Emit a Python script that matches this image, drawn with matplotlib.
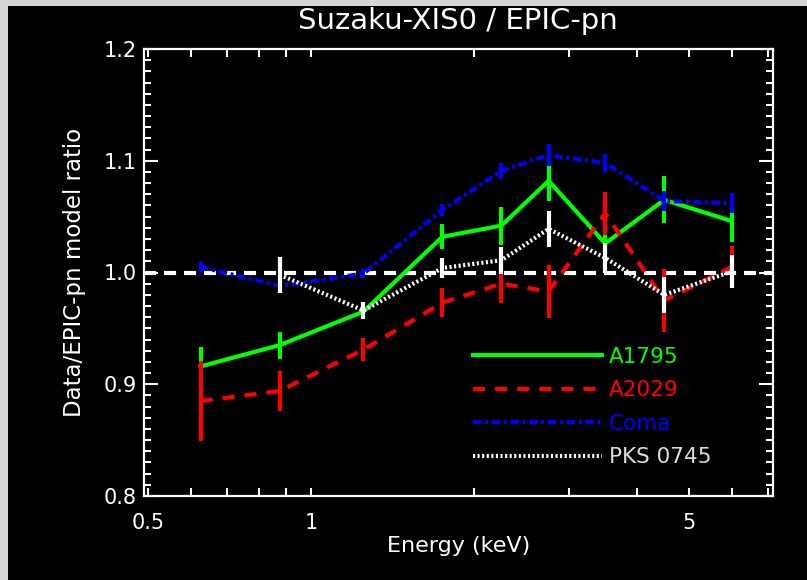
import matplotlib
matplotlib.use("Agg")
import matplotlib.pyplot as plt
from matplotlib.patches import Rectangle
from matplotlib.ticker import FixedLocator, NullFormatter, FixedFormatter, MultipleLocator

# ---------------- data ----------------
energy = [0.625, 0.875, 1.25, 1.75, 2.25, 2.75, 3.5, 4.5, 6.0]

a1795 = [0.916, 0.935, 0.965, 1.032, 1.042, 1.082, 1.026, 1.065, 1.046]
a1795_err = [0.017, 0.012, 0.006, 0.011, 0.017, 0.018, 0.012, 0.021, 0.019]

a2029 = [0.885, 0.894, 0.931, 0.973, 0.990, 0.983, 1.053, 0.975, 1.005]
a2029_err = [0.036, 0.018, 0.010, 0.013, 0.017, 0.024, 0.019, 0.028, 0.019]

coma = [1.005, 0.988, 0.999, 1.056, 1.091, 1.105, 1.098, 1.064, 1.062]
coma_err = [0.005, 0.004, 0.004, 0.005, 0.007, 0.010, 0.008, 0.009, 0.009]

pks_energy = [0.875, 1.25, 1.75, 2.25, 2.75, 3.5, 4.5, 6.0]
pks = [0.998, 0.966, 1.004, 1.011, 1.039, 1.013, 0.980, 1.001]
pks_err = [0.016, 0.008, 0.009, 0.012, 0.016, 0.013, 0.016, 0.015]

labels = ["A1795", "A2029", "Coma", "PKS 0745"]
line_colors = ["#00ff00", "#ff0000", "#0000ff", "#ffffff"]
text_colors = ["#00ff00", "#ff0000", "#0000ff", "#dcdcdc"]

x_major = [0.5, 1, 5]
x_major_labels = ["0.5", "1", "5"]
x_minor = [0.6, 0.7, 0.8, 0.9, 2, 3, 4, 6, 7]
y_ticks = [0.8, 0.9, 1.0, 1.1, 1.2]
y_labels = ["0.8", "0.9", "1.0", "1.1", "1.2"]

# ---------------- figure ----------------
plt.rcParams['font.family'] = ['DejaVu Sans']
fig = plt.figure(figsize=(8.07, 5.80), dpi=100)
fig.patch.set_facecolor("#d6d6d6")
bg = Rectangle((8 / 807, 0), 1, 574 / 580, transform=fig.transFigure,
               facecolor="black", edgecolor="none", zorder=-10)
fig.patches.append(bg)

ax = fig.add_axes([143.5 / 807, 84 / 580, 629.5 / 807, 447 / 580])
ax.set_zorder(1)
ax.set_facecolor("black")
ax.set_xscale("log")
ax.set_xlim(0.49, 7.15)
ax.set_ylim(0.8, 1.2)

lw = 3.0
ax.axhline(1.0, color="white", lw=lw, dashes=(2.9, 1.9), zorder=1)

styles = [
    dict(ls="-"),
    dict(dashes=(2.9, 2.4)),
    dict(dashes=(2.0, 0.9, 0.7, 0.9)),
    dict(dashes=(0.5, 0.6)),
]
series = [(energy, a1795, a1795_err), (energy, a2029, a2029_err),
          (energy, coma, coma_err), (pks_energy, pks, pks_err)]

handles = []
for i, ((xs, ys, es), st) in enumerate(zip(series, styles)):
    ax.errorbar(xs, ys, yerr=es, fmt="none", ecolor=line_colors[i],
                elinewidth=3.0, capsize=0, zorder=2 + i)
    h, = ax.plot(xs, ys, color=line_colors[i], lw=lw, zorder=2 + i,
                 label=labels[i], **st)
    handles.append(h)

leg = ax.legend(handles=handles, loc="upper left",
                bbox_to_anchor=((473 - 143.5) / 629.5, (496 - 347) / 447),
                frameon=False, fontsize=15.5, handlelength=6.0,
                handletextpad=0.3, labelspacing=0.62, borderpad=0,
                borderaxespad=0)
for t, c in zip(leg.get_texts(), text_colors):
    t.set_color(c)

# axes styling
for sp in ax.spines.values():
    sp.set_color("white")
    sp.set_linewidth(1.6)

ax.xaxis.set_major_locator(FixedLocator(x_major))
ax.xaxis.set_major_formatter(FixedFormatter(x_major_labels))
ax.xaxis.set_minor_locator(FixedLocator(x_minor))
ax.xaxis.set_minor_formatter(NullFormatter())
ax.yaxis.set_major_locator(FixedLocator(y_ticks))
ax.yaxis.set_major_formatter(FixedFormatter(y_labels))
ax.yaxis.set_minor_locator(MultipleLocator(0.01))

ax.tick_params(axis="both", which="both", direction="in", colors="white",
               top=True, right=True, width=1.5)
ax.tick_params(axis="x", which="both", length=6, pad=12, labelsize=15)
ax.tick_params(axis="y", which="major", length=10, pad=5, labelsize=15)
ax.tick_params(axis="y", which="minor", length=5)

ax.set_xlabel("Energy (keV)", color="white", fontsize=16)
ax.xaxis.set_label_coords(0.5, -0.09)
ax.set_ylabel("Data/EPIC-pn model ratio", color="white", fontsize=16.5)
ax.yaxis.set_label_coords(-0.092, 0.5)
ax.set_title("Suzaku-XIS0 / EPIC-pn", color="white", fontsize=21, y=1.027)

fig.savefig("out.png", dpi=100, facecolor=fig.get_facecolor())
